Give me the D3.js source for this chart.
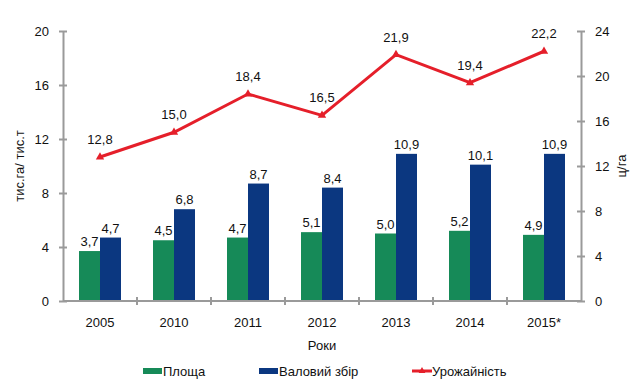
<!DOCTYPE html>
<html lang="uk">
<head>
<meta charset="utf-8">
<title>Площа, валовий збір, урожайність</title>
<script src="https://d3js.org/d3.v7.min.js"></script>
<style>
  body { margin: 0; background: #fff; }
  text { font-family: "Liberation Sans", Arial, sans-serif; fill: #111; }
</style>
</head>
<body>
<div id="chart"></div>
<script>
// data
var years = ["2005", "2010", "2011", "2012", "2013", "2014", "2015*"];
var area = [3.7, 4.5, 4.7, 5.1, 5.0, 5.2, 4.9];          // тис.га
var harvest = [4.7, 6.8, 8.7, 8.4, 10.9, 10.1, 10.9];    // тис.т
var yieldVals = [12.8, 15.0, 18.4, 16.5, 21.9, 19.4, 22.2]; // ц/га
var leftTicks = [0, 4, 8, 12, 16, 20];
var rightTicks = [0, 4, 8, 12, 16, 20, 24];

var green = "#168a58", navy = "#0b3780", red = "#e51f2a", axisCol = "#9a9a9a";
var W = 643, H = 388;
var margin = {top: 31, left: 63, right: 62, bottom: 87};
var width = W - margin.left - margin.right,
    height = H - margin.top - margin.bottom;

var fmt = function(v) { return v.toFixed(1).replace(".", ","); };

var svg = d3.select("#chart").append("svg")
    .attr("width", W).attr("height", H);
var g = svg.append("g")
    .attr("transform", "translate(" + margin.left + "," + margin.top + ")");

var x = d3.scaleBand().domain(years).range([0, width]);
var xs = d3.scaleBand().domain(["area", "harvest"]).range([0, 42]);
var yL = d3.scaleLinear().domain([0, 20]).range([height, 0]);
var yR = d3.scaleLinear().domain([0, 24]).range([height, 0]);

// bars
var groups = g.selectAll(".grp").data(years).enter().append("g")
    .attr("transform", function(d) { return "translate(" + (x(d) + x.bandwidth() / 2 - 21) + ",0)"; });

groups.append("rect")
    .attr("x", xs("area")).attr("width", xs.bandwidth())
    .attr("y", function(d, i) { return yL(area[i]); })
    .attr("height", function(d, i) { return height - yL(area[i]); })
    .attr("fill", green);
groups.append("rect")
    .attr("x", xs("harvest")).attr("width", xs.bandwidth())
    .attr("y", function(d, i) { return yL(harvest[i]); })
    .attr("height", function(d, i) { return height - yL(harvest[i]); })
    .attr("fill", navy);

groups.append("text")
    .attr("x", xs("area") + xs.bandwidth() / 2)
    .attr("y", function(d, i) { return yL(area[i]) - 5; })
    .attr("text-anchor", "middle").style("font-size", "13px")
    .text(function(d, i) { return fmt(area[i]); });
groups.append("text")
    .attr("x", xs("harvest") + xs.bandwidth() / 2)
    .attr("y", function(d, i) { return yL(harvest[i]) - 5; })
    .attr("text-anchor", "middle").style("font-size", "13px")
    .text(function(d, i) { return fmt(harvest[i]); });

// axes
function styleAxis(sel) {
  sel.select(".domain").attr("stroke", axisCol).attr("stroke-width", 2);
  sel.selectAll(".tick line").attr("stroke", axisCol).attr("stroke-width", 2);
  sel.selectAll("text").style("font-size", "13px")
    .style("font-family", "'Liberation Sans', Arial, sans-serif").attr("fill", "#111");
}

var yAxisL = g.append("g")
  .call(d3.axisLeft(yL).tickValues(leftTicks).tickSize(4).tickSizeOuter(0).tickPadding(10));
yAxisL.selectAll(".tick line").attr("x2", 4).attr("x1", -4);
styleAxis(yAxisL);

var yAxisR = g.append("g").attr("transform", "translate(" + width + ",0)")
  .call(d3.axisRight(yR).tickValues(rightTicks).tickSize(4).tickSizeOuter(0).tickPadding(10));
yAxisR.selectAll(".tick line").attr("x1", -4).attr("x2", 4);
styleAxis(yAxisR);

// x axis with ticks between categories
var xAxis = g.append("g").attr("transform", "translate(0," + height + ")");
xAxis.append("line").attr("x1", 0).attr("x2", width)
    .attr("stroke", axisCol).attr("stroke-width", 2);
xAxis.selectAll(".sep").data(years.slice(1)).enter().append("line")
    .attr("x1", function(d) { return x(d); }).attr("x2", function(d) { return x(d); })
    .attr("y1", -4).attr("y2", 4)
    .attr("stroke", axisCol).attr("stroke-width", 2);
xAxis.selectAll(".lbl").data(years).enter().append("text")
    .attr("x", function(d) { return x(d) + x.bandwidth() / 2; })
    .attr("y", 26).attr("text-anchor", "middle").style("font-size", "13px")
    .text(function(d) { return d; });

// yield line
var line = d3.line()
    .x(function(d, i) { return x(years[i]) + x.bandwidth() / 2; })
    .y(function(d) { return yR(d); });
g.append("path").datum(yieldVals).attr("d", line)
    .attr("fill", "none").attr("stroke", red).attr("stroke-width", 3);
g.selectAll(".mk").data(yieldVals).enter().append("path")
    .attr("d", d3.symbol().type(d3.symbolTriangle).size(30))
    .attr("transform", function(d, i) { return "translate(" + (x(years[i]) + x.bandwidth() / 2) + "," + yR(d) + ")"; })
    .attr("fill", red);
g.selectAll(".yl").data(yieldVals).enter().append("text")
    .attr("x", function(d, i) { return x(years[i]) + x.bandwidth() / 2; })
    .attr("y", function(d) { return yR(d) - 13; })
    .attr("text-anchor", "middle").style("font-size", "13px")
    .text(function(d) { return fmt(d); });

// axis titles
svg.append("text")
    .attr("transform", "translate(24," + (margin.top + height / 2) + ") rotate(-90)")
    .attr("text-anchor", "middle").style("font-size", "13px")
    .text("тис.га/ тис.т");
svg.append("text")
    .attr("transform", "translate(626," + (margin.top + height / 2) + ") rotate(-90)")
    .attr("text-anchor", "middle").style("font-size", "13px")
    .text("ц/га");
svg.append("text")
    .attr("x", margin.left + width / 2).attr("y", 350)
    .attr("text-anchor", "middle").style("font-size", "13px")
    .text("Роки");

// legend
var legendItems = [
  {name: "Площа", color: green, type: "rect", x: 143},
  {name: "Валовий збір", color: navy, type: "rect", x: 259},
  {name: "Урожайність", color: red, type: "line", x: 412}
];
var legend = svg.selectAll(".legend").data(legendItems).enter().append("g")
    .attr("transform", function(d) { return "translate(" + d.x + ",371)"; });
legend.filter(function(d) { return d.type === "rect"; }).append("rect")
    .attr("x", 0).attr("y", -3).attr("width", 19).attr("height", 6)
    .attr("fill", function(d) { return d.color; });
legend.filter(function(d) { return d.type === "line"; }).append("line")
    .attr("x1", 0).attr("x2", 20).attr("y1", 0).attr("y2", 0)
    .attr("stroke", red).attr("stroke-width", 3);
legend.filter(function(d) { return d.type === "line"; }).append("path")
    .attr("d", d3.symbol().type(d3.symbolTriangle).size(20))
    .attr("transform", "translate(10,0)").attr("fill", red);
legend.append("text")
    .attr("x", 20).attr("y", 5).style("font-size", "13px")
    .text(function(d) { return d.name; });
</script>
</body>
</html>
